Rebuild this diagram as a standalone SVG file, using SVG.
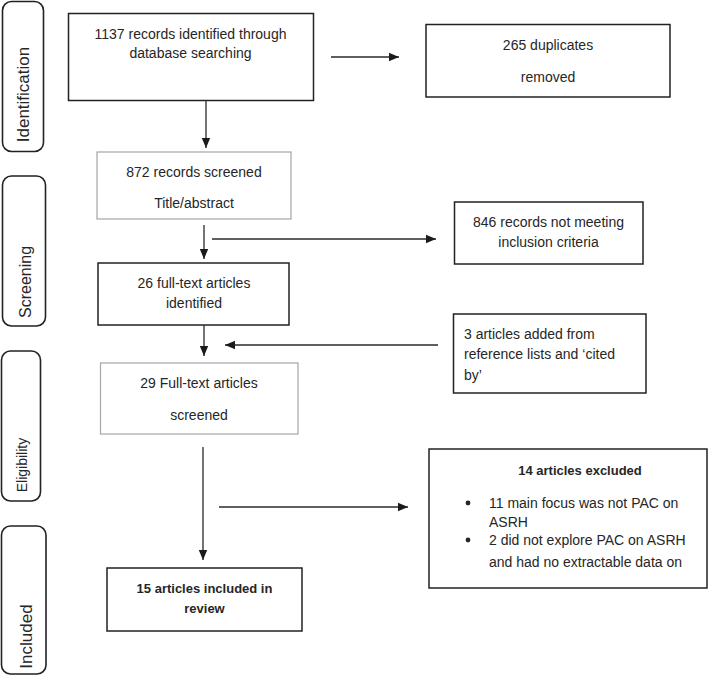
<svg xmlns="http://www.w3.org/2000/svg" width="710" height="676" viewBox="0 0 710 676">
<defs>
<marker id="ah" markerUnits="userSpaceOnUse" markerWidth="10" markerHeight="10" viewBox="0 0 10 10" refX="10" refY="5" orient="auto">
<path d="M0,0.8 L10,5 L0,9.2 Z" fill="#1a1a1a"/>
</marker>
<style>
.t{font-family:"Liberation Sans",Arial,sans-serif;font-size:14px;fill:#262626}
.c{text-anchor:middle}
.b{font-weight:bold;font-size:13px}
.side{font-family:"Liberation Sans",Arial,sans-serif;fill:#262626;text-anchor:middle}
.box{fill:#fff;stroke:#222;stroke-width:1.5}
.gbox{fill:#fff;stroke:#a6a6a6;stroke-width:1.2}
.lab{fill:#fff;stroke:#222;stroke-width:1.6}
.con{stroke:#2a2a2a;stroke-width:1.3;fill:none;marker-end:url(#ah)}
</style>
</defs>
<rect width="710" height="676" fill="#fff"/>

<g id="stage-identification">
<rect class="lab" x="2.5" y="1.5" width="41" height="150" rx="9"/>
<text class="side" font-size="17" transform="translate(29,94.5) rotate(-90)">Identification</text>
</g>
<g id="stage-screening">
<rect class="lab" x="2.5" y="176" width="43" height="150" rx="9"/>
<text class="side" font-size="16" transform="translate(31,282) rotate(-90)">Screening</text>
</g>
<g id="stage-eligibility">
<rect class="lab" x="1.5" y="351" width="39" height="150" rx="9"/>
<text class="side" font-size="14" transform="translate(27,465) rotate(-90)">Eligibility</text>
</g>
<g id="stage-included">
<rect class="lab" x="1.5" y="526" width="44.5" height="148" rx="9"/>
<text class="side" font-size="17" transform="translate(32,636.5) rotate(-90)">Included</text>
</g>

<g id="n-identified">
<rect class="box" x="68.5" y="13.5" width="245" height="87"/>
<text class="t c" x="190.5" y="39">1137 records identified through</text>
<text class="t c" x="190.5" y="58">database searching</text>
</g>
<g id="n-duplicates">
<rect class="box" x="426" y="24.5" width="244" height="72.5"/>
<text class="t c" x="548" y="50">265 duplicates</text>
<text class="t c" x="548" y="82">removed</text>
</g>
<g id="n-screened">
<rect class="gbox" x="97" y="152" width="194" height="67"/>
<text class="t c" x="194" y="177">872 records screened</text>
<text class="t c" x="194" y="208">Title/abstract</text>
</g>
<g id="n-notmeeting">
<rect class="box" x="454.5" y="202" width="188.5" height="62"/>
<text class="t c" x="548.5" y="227">846 records not meeting</text>
<text class="t c" x="548.5" y="247">inclusion criteria</text>
</g>
<g id="n-fulltext">
<rect class="box" x="98" y="263" width="191" height="62"/>
<text class="t c" x="194" y="288">26 full-text articles</text>
<text class="t c" x="194" y="308">identified</text>
</g>
<g id="n-added">
<rect class="box" x="453.5" y="314" width="192.5" height="79"/>
<text class="t" x="464" y="339">3 articles added from</text>
<text class="t" x="464" y="359">reference lists and ‘cited</text>
<text class="t" x="464" y="380">by’</text>
</g>
<g id="n-fulltext-screened">
<rect class="gbox" x="100.5" y="363" width="197.5" height="71"/>
<text class="t c" x="199" y="388">29 Full-text articles</text>
<text class="t c" x="199" y="420">screened</text>
</g>
<g id="n-excluded">
<rect class="box" x="429" y="449" width="278" height="139"/>
<text class="t c b" x="580" y="475">14 articles excluded</text>
<circle cx="468" cy="503" r="2.4" fill="#262626"/>
<text class="t" x="489" y="508">11 main focus was not PAC on</text>
<text class="t" x="489" y="527">ASRH</text>
<circle cx="468" cy="540" r="2.4" fill="#262626"/>
<text class="t" x="489" y="545">2 did not explore PAC on ASRH</text>
<text class="t" x="489" y="567">and had no extractable data on</text>
</g>
<g id="n-included">
<rect class="box" x="107" y="568" width="195" height="63"/>
<text class="t c b" x="204.5" y="593">15 articles included in</text>
<text class="t c b" x="204.5" y="613">review</text>
</g>

<g id="connectors">
<line class="con" x1="206" y1="100.5" x2="206" y2="148"/>
<line class="con" x1="331" y1="57" x2="399" y2="57"/>
<line class="con" x1="204" y1="225" x2="204" y2="259"/>
<line class="con" x1="212" y1="239" x2="436" y2="239"/>
<line class="con" x1="204" y1="325" x2="204" y2="356"/>
<line class="con" x1="438" y1="345" x2="225" y2="345"/>
<line class="con" x1="203" y1="447" x2="203" y2="560"/>
<line class="con" x1="219" y1="507" x2="408" y2="507"/>
</g>
</svg>
